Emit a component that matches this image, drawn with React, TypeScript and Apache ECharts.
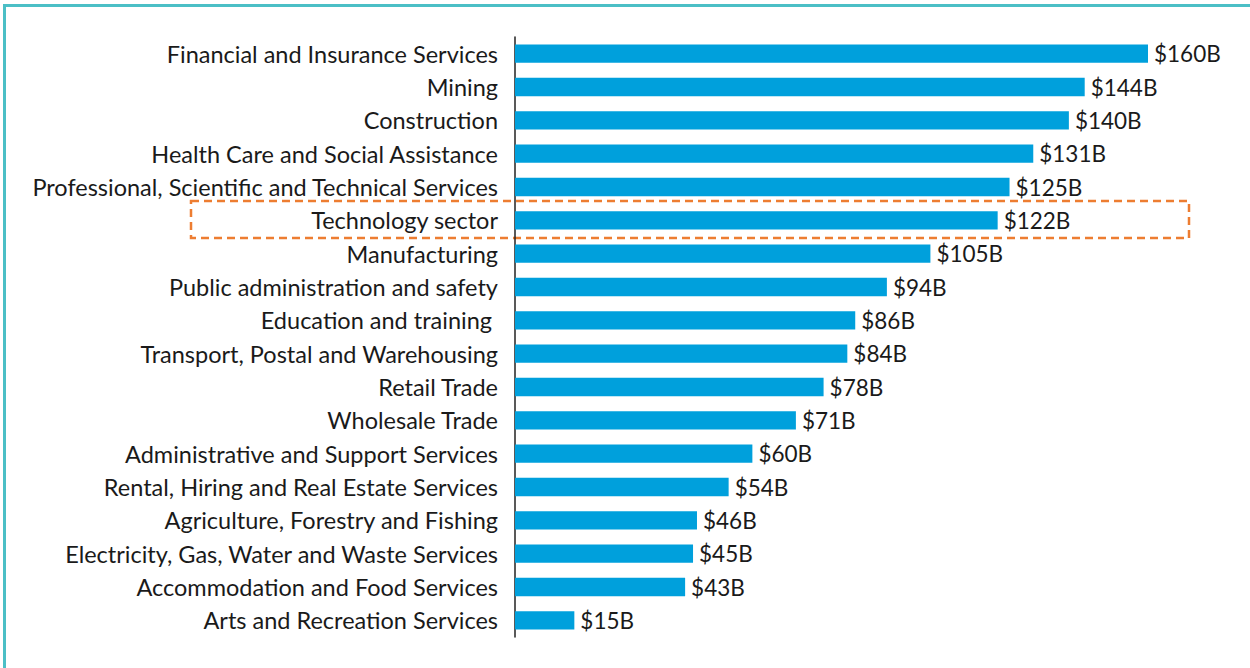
import React, { useEffect, useRef } from "react";
import * as echarts from "echarts";

const categories = [
  "Financial and Insurance Services",
  "Mining",
  "Construction",
  "Health Care and Social Assistance",
  "Professional, Scientific and Technical Services",
  "Technology sector",
  "Manufacturing",
  "Public administration and safety",
  "Education and training ",
  "Transport, Postal and Warehousing",
  "Retail Trade",
  "Wholesale Trade",
  "Administrative and Support Services",
  "Rental, Hiring and Real Estate Services",
  "Agriculture, Forestry and Fishing",
  "Electricity, Gas, Water and Waste Services",
  "Accommodation and Food Services",
  "Arts and Recreation Services",
];
const values = [160, 144, 140, 131, 125, 122, 105, 94, 86, 84, 78, 71, 60, 54, 46, 45, 43, 15];

export default function App() {
  const ref = useRef<HTMLDivElement>(null);
  useEffect(() => {
    document.body.style.margin = "0";
    const chart = echarts.init(ref.current!, undefined, { renderer: "svg" });
    chart.setOption({
      animation: false,
      backgroundColor: "#ffffff",
      grid: { left: 515, right: 102, top: 37, bottom: 31, containLabel: false },
      xAxis: {
        type: "value",
        min: 0,
        max: 160,
        show: false,
      },
      yAxis: {
        type: "category",
        data: categories,
        inverse: true,
        axisLine: { show: true, lineStyle: { color: "#222", width: 1.5 } },
        axisTick: { show: false },
        axisLabel: {
          margin: 17,
          color: "#1a1a1a",
          fontSize: 23.5,
          fontFamily: "Lato",
        },
      },
      series: [
        {
          type: "bar",
          data: values,
          barWidth: "55%",
          itemStyle: { color: "#00a0dc" },
          label: {
            show: true,
            position: "right",
            distance: 6,
            color: "#1a1a1a",
            fontSize: 22.5,
            fontFamily: "Lato",
            formatter: (p: any) => "$" + p.value + "B",
          },
        },
      ],
      graphic: [
        {
          type: "line",
          shape: { x1: 3, y1: 5.5, x2: 1250, y2: 5.5 },
          style: { stroke: "#4bbfc6", lineWidth: 3 },
        },
        {
          type: "line",
          shape: { x1: 4.5, y1: 4, x2: 4.5, y2: 668 },
          style: { stroke: "#4bbfc6", lineWidth: 3 },
        },
        {
          type: "rect",
          shape: { x: 191, y: 201, width: 998, height: 37 },
          style: {
            fill: "none",
            stroke: "#ed7d31",
            lineWidth: 2.5,
            lineDash: [8, 5],
          },
        },
      ],
    });
    return () => chart.dispose();
  }, []);
  return (
    <div
      ref={ref}
      style={{ position: "absolute", left: 0, top: 0, width: 1250, height: 668 }}
    />
  );
}
